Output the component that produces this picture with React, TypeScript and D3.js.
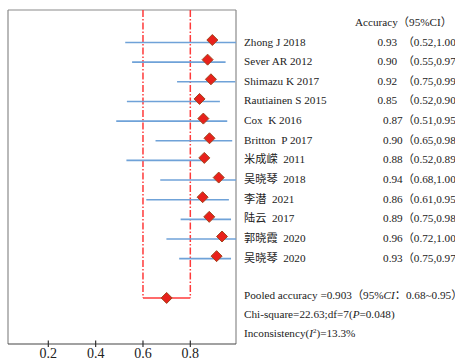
import React from "react";
import * as d3 from "d3";

const studies = [
  "Zhong J 2018", "Sever AR 2012", "Shimazu K 2017", "Rautiainen S 2015",
  "Cox  K 2016", "Britton  P 2017", "米成嵘  2011", "吴晓琴  2018",
  "李潜  2021", "陆云  2017", "郭晓霞  2020", "吴晓琴  2020",
];
const estimates = [0.893, 0.873, 0.887, 0.839, 0.855, 0.881, 0.859, 0.92, 0.852, 0.88, 0.934, 0.911];
const lowers = [0.525, 0.554, 0.744, 0.532, 0.487, 0.653, 0.53, 0.673, 0.614, 0.759, 0.699, 0.753];
const uppers = [1.0, 0.949, 0.99, 0.925, 0.956, 0.977, 0.86, 1.0, 0.963, 0.972, 1.0, 0.972];
const valueLabels = [
  "0.93\u2002（0.52,1.00）", "0.90\u2002（0.55,0.97）", "0.92\u2002（0.75,0.99）", "0.85\u2002（0.52,0.90）",
  "0.87（0.51,0.95）", "0.90（0.65,0.98）", "0.88（0.52,0.89）", "0.94（0.68,1.00）",
  "0.86（0.61,0.95）", "0.89（0.75,0.98）", "0.96（0.72,1.00）", "0.93（0.75,0.97）",
];
const pooledEstimate = 0.7;
const pooledLower = 0.6;
const pooledUpper = 0.8;
const xTicks = [0.2, 0.4, 0.6, 0.8];

const FONT = "'Liberation Serif', 'Times New Roman', 'Noto Sans CJK SC', serif";

export default function App() {
  const W = 455, H = 359;
  const left = 8, right = 236, top = 10, bottom = 344;
  const x = d3.scaleLinear().domain([0.0297, 0.993]).range([left, right]);
  const rows = d3.range(studies.length + 2);
  const y = d3.scalePoint<number>().domain(rows).range([41, 41 + 13 * 19.65]);
  const clampX = (v: number) => Math.min(right, Math.max(left, x(v)));
  const diamond = (cx: number, cy: number, r: number) =>
    `M${cx},${cy - r}L${cx + r},${cy}L${cx},${cy + r}L${cx - r},${cy}Z`;
  const pooledY = y(13)! + 1.5;
  const red = "#ff3a3a";
  const dash = "7,2,1.5,2";

  return (
    <svg width={W} height={H} style={{ position: "absolute", left: 0, top: 0, fontFamily: FONT }}>
      <rect x={0} y={0} width={W} height={H} fill="#fff" />
      {/* frame */}
      <line x1={left} y1={top} x2={right} y2={top} stroke="#8a8a8a" strokeWidth={1.2} />
      <line x1={left} y1={top} x2={left} y2={bottom} stroke="#8a8a8a" strokeWidth={1.2} />
      <line x1={right} y1={top} x2={right} y2={bottom} stroke="#8a8a8a" strokeWidth={1.2} />
      <line x1={left} y1={bottom} x2={right} y2={bottom} stroke="#444" strokeWidth={1.2} />
      {xTicks.map((t) => (
        <g key={t}>
          <line x1={x(t)} x2={x(t)} y1={bottom - 3.5} y2={bottom + 3} stroke="#333" strokeWidth={1.2} />
          <text x={x(t)} y={358} textAnchor="middle" fontSize={14} fill="#222">{t.toFixed(1)}</text>
        </g>
      ))}
      {/* pooled CI dashed lines */}
      <line x1={x(pooledLower)} x2={x(pooledLower)} y1={top} y2={pooledY} stroke={red} strokeWidth={1.5} strokeDasharray={dash} />
      <line x1={x(pooledUpper)} x2={x(pooledUpper)} y1={top} y2={pooledY} stroke={red} strokeWidth={1.5} strokeDasharray={dash} />
      <line x1={x(pooledLower)} x2={x(pooledUpper)} y1={pooledY} y2={pooledY} stroke={red} strokeWidth={1.5} />
      <path d={diamond(x(pooledEstimate), pooledY, 5.5)} fill="#e8211c" stroke="#a0461e" strokeWidth={1} />
      {/* studies */}
      {studies.map((s, i) => {
        const yc = y(i)!;
        return (
          <g key={i}>
            <line x1={clampX(lowers[i])} x2={clampX(uppers[i])} y1={yc + 1.5} y2={yc + 1.5} stroke="#6fa2d8" strokeWidth={1.6} />
            <path d={diamond(x(estimates[i]), yc - 1, 5.5)} fill="#e8211c" stroke="#a0461e" strokeWidth={1} />
            <text x={244} y={yc + 4.5} fontSize={11.2} fill="#222" style={{ whiteSpace: "pre" }}>{s}</text>
            <text x={467} y={yc + 4.5} fontSize={11.2} fill="#222" textAnchor="end" style={{ whiteSpace: "pre" }}>{valueLabels[i]}</text>
          </g>
        );
      })}
      <text x={355} y={26} fontSize={11.2} fill="#222">Accuracy（95%CI）</text>
      <text x={244} y={299} fontSize={11.2} fill="#222" style={{ whiteSpace: "pre" }}>
        Pooled accuracy =0.903（95%<tspan fontStyle="italic">CI</tspan>：0.68~0.95）
      </text>
      <text x={244} y={318} fontSize={11.2} fill="#222">
        Chi-square=22.63;df=7(<tspan fontStyle="italic">P</tspan>=0.048)
      </text>
      <text x={244} y={337} fontSize={11.2} fill="#222">
        Inconsistency(<tspan fontStyle="italic">I</tspan><tspan fontSize={7} dy={-4}>2</tspan><tspan dy={4}>)=13.3%</tspan>
      </text>
    </svg>
  );
}
